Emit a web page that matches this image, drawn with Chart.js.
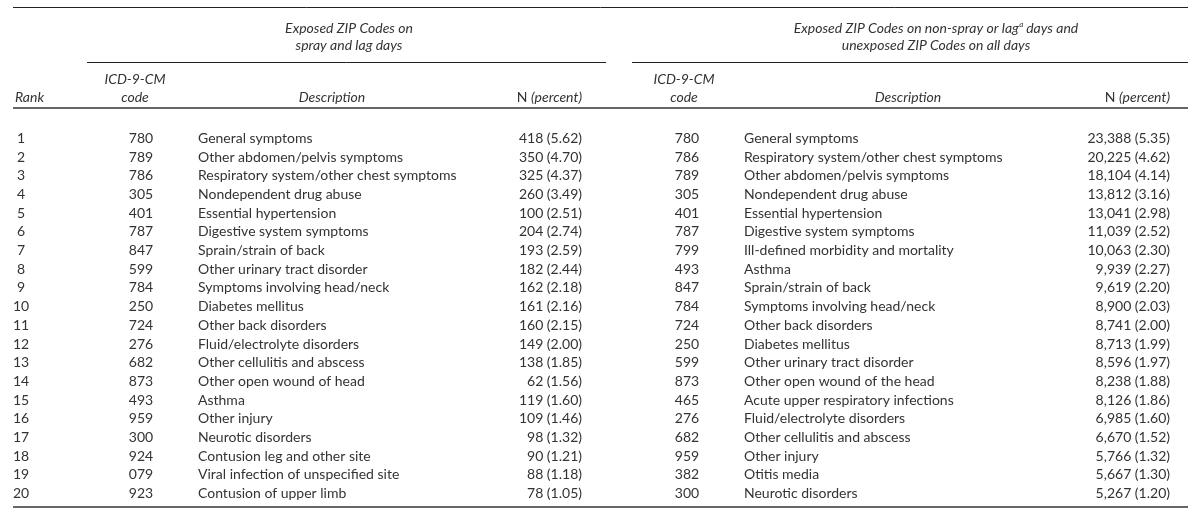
<!DOCTYPE html>
<html>
<head>
<meta charset="utf-8">
<script src="https://cdn.jsdelivr.net/npm/chart.js@4.4.1/dist/chart.umd.min.js"></script>
<style>
  html, body { margin: 0; padding: 0; background: #fff; }
  #wrap { width: 1200px; height: 513px; }
</style>
</head>
<body>
<div id="wrap"><canvas id="rankTable" width="1200" height="513"></canvas></div>
<script>
// row labels
var ranks = ['1', '2', '3', '4', '5', '6', '7', '8', '9', '10',
             '11', '12', '13', '14', '15', '16', '17', '18', '19', '20'];

// exposed ZIP codes on spray and lag days
var codesSpray = ['780', '789', '786', '305', '401', '787', '847', '599', '784', '250',
                  '724', '276', '682', '873', '493', '959', '300', '924', '079', '923'];
var descSpray = ['General symptoms', 'Other abdomen/pelvis symptoms', 'Respiratory system/other chest symptoms',
                 'Nondependent drug abuse', 'Essential hypertension', 'Digestive system symptoms',
                 'Sprain/strain of back', 'Other urinary tract disorder', 'Symptoms involving head/neck',
                 'Diabetes mellitus', 'Other back disorders', 'Fluid/electrolyte disorders',
                 'Other cellulitis and abscess', 'Other open wound of head', 'Asthma', 'Other injury',
                 'Neurotic disorders', 'Contusion leg and other site', 'Viral infection of unspecified site',
                 'Contusion of upper limb'];
var nSpray = [418, 350, 325, 260, 100, 204, 193, 182, 162, 161, 160, 149, 138, 62, 119, 109, 98, 90, 88, 78];
var pctSpray = [5.62, 4.70, 4.37, 3.49, 2.51, 2.74, 2.59, 2.44, 2.18, 2.16,
                2.15, 2.00, 1.85, 1.56, 1.60, 1.46, 1.32, 1.21, 1.18, 1.05];

// exposed ZIP codes on non-spray or lag days and unexposed ZIP codes on all days
var codesOther = ['780', '786', '789', '305', '401', '787', '799', '493', '847', '784',
                  '724', '250', '599', '873', '465', '276', '682', '959', '382', '300'];
var descOther = ['General symptoms', 'Respiratory system/other chest symptoms', 'Other abdomen/pelvis symptoms',
                 'Nondependent drug abuse', 'Essential hypertension', 'Digestive system symptoms',
                 'Ill-defined morbidity and mortality', 'Asthma', 'Sprain/strain of back',
                 'Symptoms involving head/neck', 'Other back disorders', 'Diabetes mellitus',
                 'Other urinary tract disorder', 'Other open wound of the head', 'Acute upper respiratory infections',
                 'Fluid/electrolyte disorders', 'Other cellulitis and abscess', 'Other injury', 'Otitis media',
                 'Neurotic disorders'];
var nOther = [23388, 20225, 18104, 13812, 13041, 11039, 10063, 9939, 9619, 8900,
              8741, 8713, 8596, 8238, 8126, 6985, 6670, 5766, 5667, 5267];
var pctOther = [5.35, 4.62, 4.14, 3.16, 2.98, 2.52, 2.30, 2.27, 2.20, 2.03,
                2.00, 1.99, 1.97, 1.88, 1.86, 1.60, 1.52, 1.32, 1.30, 1.20];

var FONT = "'Lato', 'Open Sans', sans-serif";
var INK = '#333333';

function cell(n, p) {
    return n.toLocaleString('en-US') + ' (' + p.toFixed(2) + ')';
}

var tablePlugin = {
    id: 'tableCells',
    afterDraw: function(chart) {
        var ctx = chart.ctx;
        var xs = chart.scales.x;
        var ys = chart.scales.y;
        var px = function(v) { return xs.getPixelForValue(v); };

        ctx.save();
        ctx.fillStyle = INK;
        ctx.textBaseline = 'middle';

        // rules
        function rule(x1, x2, yy, w, col) {
            ctx.beginPath();
            ctx.lineWidth = w;
            ctx.strokeStyle = col;
            ctx.moveTo(px(x1), yy);
            ctx.lineTo(px(x2), yy);
            ctx.stroke();
        }
        rule(13, 1188, 7.5, 1, '#222');
        rule(87, 606, 62.5, 1, '#222');
        rule(632, 1188, 62.5, 1, '#222');
        rule(13, 1188, 108, 2, '#666');
        rule(13, 1188, 507, 1.5, '#333');

        // group headers
        ctx.font = 'italic 14px ' + FONT;
        ctx.textAlign = 'center';
        ctx.fillText('Exposed ZIP Codes on', px(349), 28);
        ctx.fillText('spray and lag days', px(349), 45);

        var pre = 'Exposed ZIP Codes on non-spray or lag';
        var post = ' days and';
        var wPre = ctx.measureText(pre).width;
        var wPost = ctx.measureText(post).width;
        ctx.font = 'italic 8px ' + FONT;
        var wSup = ctx.measureText('a').width;
        var start = px(936) - (wPre + wSup + wPost) / 2;
        ctx.textAlign = 'left';
        ctx.font = 'italic 14px ' + FONT;
        ctx.fillText(pre, start, 28);
        ctx.fillText(post, start + wPre + wSup, 28);
        ctx.font = 'italic 8px ' + FONT;
        ctx.fillText('a', start + wPre + 0.5, 24);
        ctx.font = 'italic 14px ' + FONT;
        ctx.textAlign = 'center';
        ctx.fillText('unexposed ZIP Codes on all days', px(936), 45);

        // column headers
        ctx.textAlign = 'left';
        ctx.fillText('Rank', px(15), 97);
        ctx.textAlign = 'center';
        [[135, 332], [684, 908]].forEach(function(c) {
            ctx.fillText('ICD-9-CM', px(c[0]), 79);
            ctx.fillText('code', px(c[0]), 97);
            ctx.fillText('Description', px(c[1]), 97);
        });
        [582, 1170].forEach(function(xr) {
            ctx.font = 'italic 14px ' + FONT;
            ctx.textAlign = 'right';
            ctx.fillText('(percent)', px(xr), 97);
            var w = ctx.measureText('(percent)').width;
            ctx.font = '14px ' + FONT;
            ctx.fillText('N ', px(xr) - w, 97);
        });

        // body cells
        ctx.font = '14px ' + FONT;
        ranks.forEach(function(r, i) {
            var yy = ys.getPixelForValue(i);
            ctx.textAlign = 'center';
            ctx.fillText(r, px(21), yy);
            ctx.fillText(codesSpray[i], px(141), yy);
            ctx.fillText(codesOther[i], px(687), yy);
            ctx.textAlign = 'left';
            ctx.fillText(descSpray[i], px(198), yy);
            ctx.fillText(descOther[i], px(744), yy);
            ctx.textAlign = 'right';
            ctx.fillText(cell(nSpray[i], pctSpray[i]), px(582), yy);
            ctx.fillText(cell(nOther[i], pctOther[i]), px(1170), yy);
        });
        ctx.restore();
    }
};

var ctx = document.getElementById('rankTable').getContext('2d');
var rankTable = new Chart(ctx, {
    type: 'scatter',
    data: { datasets: [] },
    options: {
        responsive: false,
        animation: false,
        layout: { padding: { top: 129, bottom: 10, left: 0, right: 0 } },
        plugins: { legend: { display: false }, tooltip: { enabled: false } },
        scales: {
            x: { type: 'linear', min: 0, max: 1200, display: false },
            y: { type: 'category', labels: ranks, offset: true, display: false }
        }
    },
    plugins: [tablePlugin]
});
</script>
</body>
</html>
